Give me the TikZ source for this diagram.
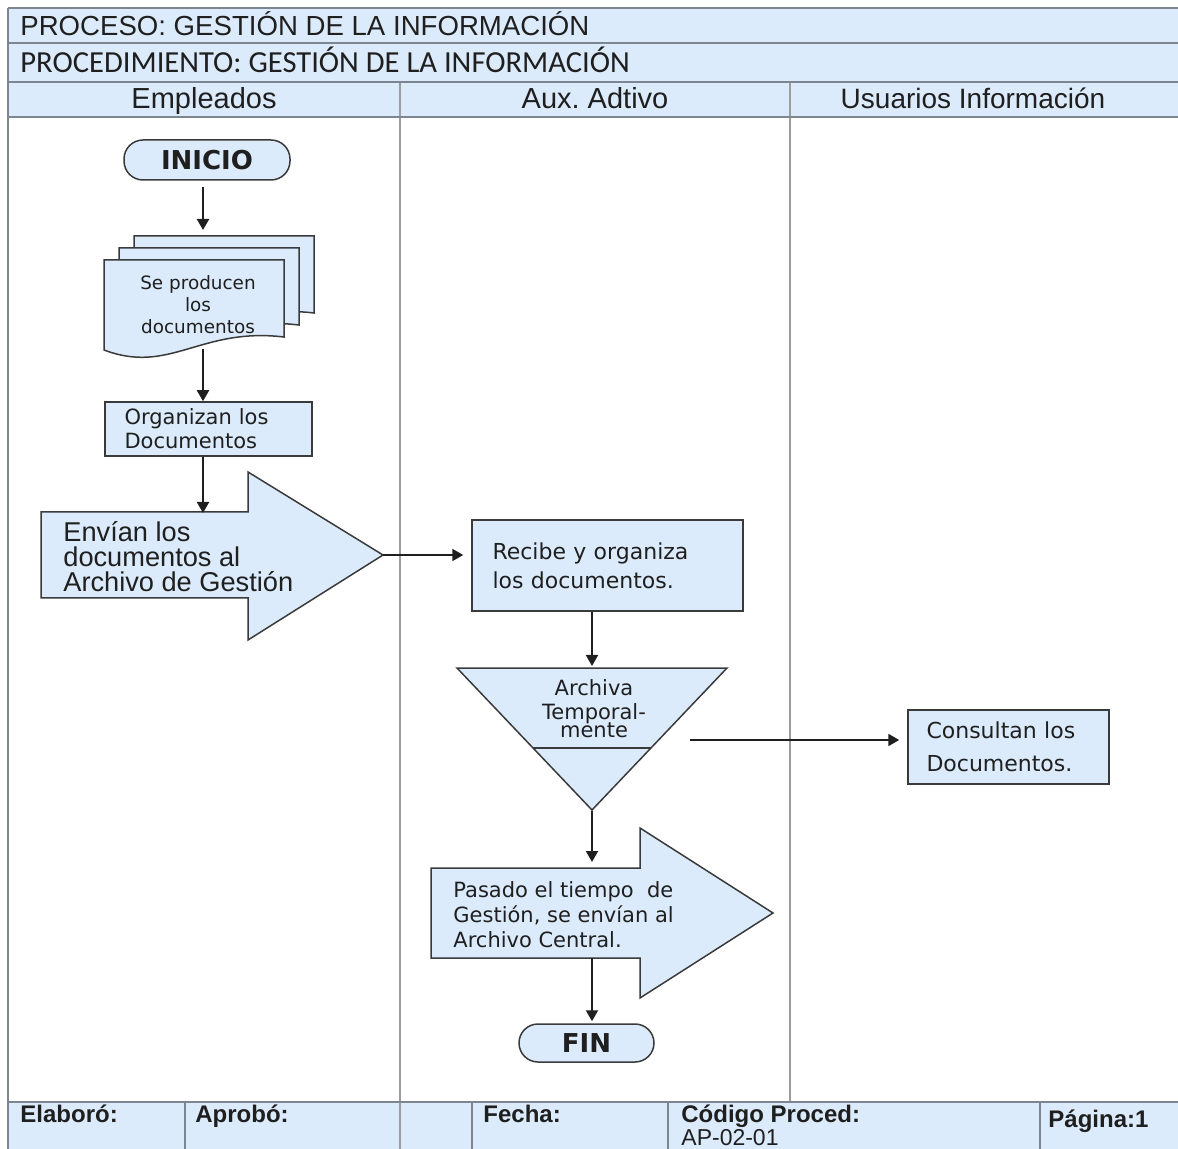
\documentclass[tikz,border=0pt]{standalone}
\usepackage{fontspec}
\setmainfont{Liberation Sans}
\newfontfamily\carlitofont{Carlito}
\newfontfamily\handfont{DejaVu Sans}
\usetikzlibrary{arrows.meta}
\frenchspacing

\definecolor{panel}{HTML}{DCEBFB}
\definecolor{gridline}{HTML}{7C8590}
\definecolor{laneline}{HTML}{9C9C9C}
\definecolor{outline}{HTML}{3A3A3A}
\definecolor{ink}{HTML}{1F1F1F}

\begin{document}
\begin{tikzpicture}[x=0.5pt,y=-0.5pt,
  shapebox/.style={draw=outline,line width=0.75pt,fill=panel},
  flow/.style={draw=ink,line width=1pt,-{Triangle[length=5.5pt,width=6pt]}},
  gridrule/.style={draw=gridline,line width=1.2pt},
  lanerule/.style={draw=laneline,line width=1pt},
  headtext/.style={inner sep=0pt,text=ink},
  foottext/.style={inner sep=0pt,text=ink,font=\fontsize{12}{14}\selectfont\bfseries,anchor=base west},
  pill/.style={shapebox,rounded corners=9.5pt,inner sep=0pt,
    font=\handfont\bfseries\fontsize{13}{15}\selectfont,text=ink},
  stepbox/.style={shapebox,inner ysep=0pt,align=left,text=ink},
  handtext/.style={inner sep=0pt,text=ink},
  docsheet/.pic={\path[shapebox] (0,0) -- (180,0) -- (180,77)
      .. controls (96,67) and (66,115) .. (0,90) -- cycle;},
]
\useasboundingbox (0,0) rectangle (1178,1149);
\clip (0,0) rectangle (1178,1149);

% header and footer bands
\fill[panel] (8,8) rectangle (1178,117);
\fill[panel] (8,1102) rectangle (1178,1149);

% swimlane separators
\draw[lanerule] (400,82) -- (400,1149);
\draw[lanerule] (790,82) -- (790,1102);

% table rules
\draw[gridrule] (8,8) -- (1178,8) (8,43) -- (1178,43) (8,82) -- (1178,82)
  (8,117) -- (1178,117) (8,1102) -- (1178,1102);
\draw[gridrule] (8,8) -- (8,1149);
\draw[gridline,line width=0.9pt] (185,1102) -- (185,1149) (472,1102) -- (472,1149)
  (668,1102) -- (668,1149) (1040,1102) -- (1040,1149);

% header texts
\node[headtext,anchor=base west,font=\fontsize{13.8}{16}\selectfont] (proc) at (20,36)
  {PROCESO: GESTIÓN DE LA INFORMACIÓN};
\node[headtext,anchor=base west,font=\carlitofont\fontsize{15.3}{17}\selectfont] (procd) at (20,73)
  {PROCEDIMIENTO: GESTIÓN DE LA INFORMACIÓN};
\node[headtext,anchor=base,font=\fontsize{14.5}{16}\selectfont] (lane1) at (204,109) {Empleados};
\node[headtext,anchor=base,font=\fontsize{14.5}{16}\selectfont] (lane2) at (595,109) {Aux. Adtivo};
\node[headtext,anchor=base,font=\fontsize{14}{16}\selectfont] (lane3) at (973,109) {Usuarios Información};

% footer texts
\node[foottext] (elab) at (20,1122) {Elaboró:};
\node[foottext] (aprob) at (195,1122) {Aprobó:};
\node[foottext] (fecha) at (483,1122) {Fecha:};
\node[foottext] (codigo) at (681,1122) {Código Proced:};
\node[foottext,font=\fontsize{11.5}{13}\selectfont] (codval) at (681,1145) {AP-02-01};
\node[foottext] (pagina) at (1048,1127) {Página:1};

% --- Empleados lane ---
\node[pill,minimum width=83pt,minimum height=20pt] (inicio) at (207,160) {INICIO};

\pic at (134,236) {docsheet};
\pic at (119,248) {docsheet};
\pic at (104,260) {docsheet};
\node[handtext,align=center,font=\handfont\fontsize{9.2}{11}\selectfont] (docs) at (198,305)
  {Se producen\\los\\documentos};
\coordinate (docs-n) at (203,230);
\coordinate (docs-s) at (203,349);

\node[stepbox,minimum width=103.5pt,minimum height=27pt,text width=84pt,
  font=\handfont\fontsize{10.5}{12}\selectfont] (org) at (208.5,429)
  {Organizan los\\Documentos};

\path[shapebox] (41,512) -- (248,512) -- (248,472) -- (383,555) -- (248,640)
  -- (248,598) -- (41,598) -- cycle;
\coordinate (envia-n) at (203,513);
\coordinate (envia-tip) at (383,555);
\node[handtext,anchor=north west,align=left,font=\fontsize{13.6}{12.5}\selectfont] (envia) at (63,521)
  {Envían los\\documentos al\\Archivo de Gestión};

% --- Aux. Adtivo lane ---
\node[stepbox,minimum width=135.5pt,minimum height=45.5pt,text width=115pt,
  font=\handfont\fontsize{11}{14.5}\selectfont] (recibe) at (607.5,565.5)
  {Recibe y organiza\\los documentos.};

\path[shapebox] (457,668) -- (727,668) -- (592,810) -- cycle;
\draw[outline,line width=0.75pt] (533,748) -- (651,748);
\coordinate (tri-n) at (592,668);
\coordinate (tri-s) at (592,811);
\coordinate (arch-out) at (690,740);
\node[handtext,align=center,font=\handfont\fontsize{10.5}{12}\selectfont] (archiva) at (594,709)
  {Archiva\\Temporal-\\[-3pt]mente};

\path[shapebox] (431,868) -- (640,868) -- (640,828) -- (773,913) -- (640,998)
  -- (640,958) -- (431,958) -- cycle;
\coordinate (pasa-n) at (592,868);
\coordinate (pasa-s) at (592,958);
\node[handtext,anchor=north west,align=left,font=\handfont\fontsize{10.5}{12.5}\selectfont] (pasa) at (453,881)
  {Pasado el tiempo\ \ de\\Gestión, se envían al\\Archivo Central.};

\node[pill,minimum width=67.5pt,minimum height=19pt] (fin) at (586.5,1043) {FIN};

% --- Usuarios Información lane ---
\node[stepbox,minimum width=100.5pt,minimum height=37pt,text width=82pt,
  font=\handfont\fontsize{11}{16.5}\selectfont] (consulta) at (1008.5,747)
  {Consultan los\\Documentos.};

% connectors
\draw[flow] (inicio.south -| docs-n) ++(0,6) -- (docs-n);
\draw[flow] (docs-s) -- (docs-s |- org.north);
\draw[flow] (org.south -| envia-n) -- (envia-n);
\draw[flow,shorten >=4pt] (envia-tip) -- (envia-tip -| recibe.west);
\draw[flow,shorten >=1pt] (recibe.south -| tri-n) -- (tri-n);
\draw[flow,shorten >=4pt] (arch-out) -- (arch-out -| consulta.west);
\draw[flow,shorten >=3pt] (tri-s) -- (pasa-n);
\draw[flow,shorten >=1pt] (pasa-s) -- (pasa-s |- fin.north);
\end{tikzpicture}
\end{document}
